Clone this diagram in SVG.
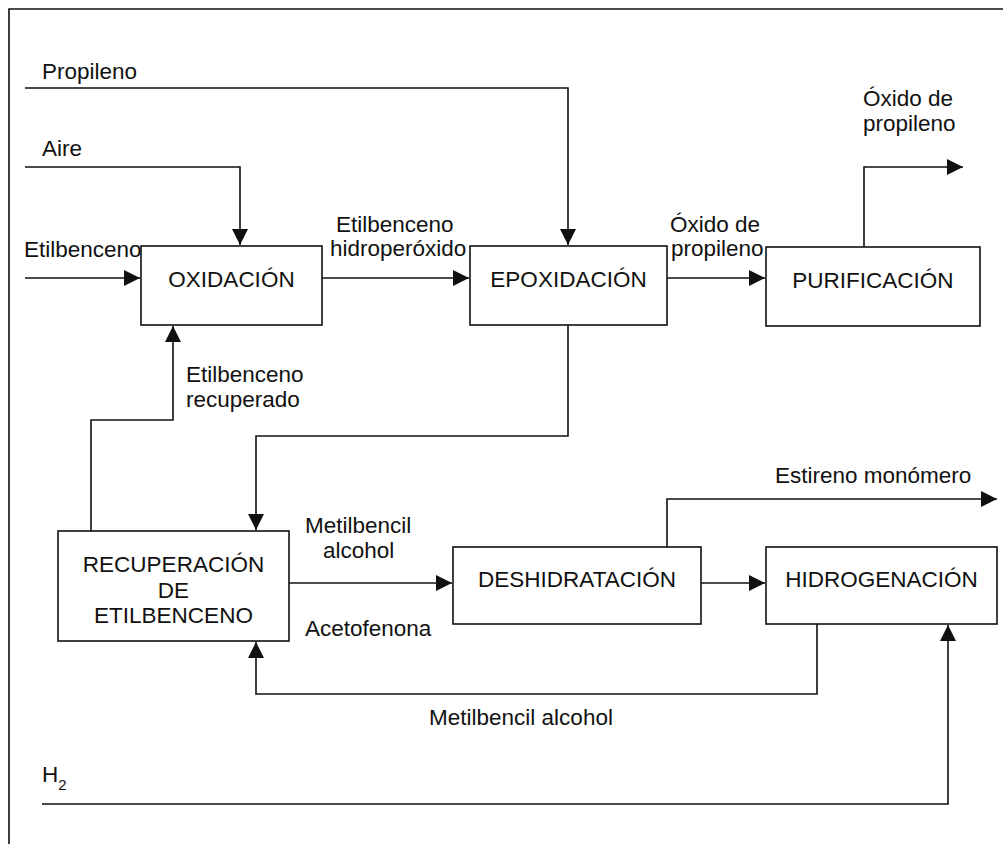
<svg xmlns="http://www.w3.org/2000/svg" width="1003" height="844" viewBox="0 0 1003 844">
<style>
text{font-family:"Liberation Sans",Arial,sans-serif;font-size:22.5px;fill:#111}
.box{fill:#fff;stroke:#111;stroke-width:1.6}
.c{text-anchor:middle}
.ln{fill:none;stroke:#111;stroke-width:1.6}
</style>
<defs>
<marker id="ah" markerUnits="userSpaceOnUse" markerWidth="17" markerHeight="17" refX="16" refY="8" orient="auto">
<path d="M0,0 L16,8 L0,16 z" fill="#111"/>
</marker>
</defs>
<rect width="1003" height="844" fill="#fff"/>
<path class="ln" d="M9,844 V9 H1003"/>
<g id="connectors">
<path class="ln" d="M25,88 H568 V245" marker-end="url(#ah)"/>
<path class="ln" d="M25,167 H240 V245" marker-end="url(#ah)"/>
<path class="ln" d="M25,278 H140" marker-end="url(#ah)"/>
<path class="ln" d="M322,278 H469" marker-end="url(#ah)"/>
<path class="ln" d="M667,278 H765" marker-end="url(#ah)"/>
<path class="ln" d="M864,247 V167 H963" marker-end="url(#ah)"/>
<path class="ln" d="M568,325 V436 H256 V530" marker-end="url(#ah)"/>
<path class="ln" d="M91,531 V420 H173 V326" marker-end="url(#ah)"/>
<path class="ln" d="M289,583 H452" marker-end="url(#ah)"/>
<path class="ln" d="M701,583 H765" marker-end="url(#ah)"/>
<path class="ln" d="M667,547 V499 H997" marker-end="url(#ah)"/>
<path class="ln" d="M817,624 V694 H256 V642" marker-end="url(#ah)"/>
<path class="ln" d="M42,804 H948 V625" marker-end="url(#ah)"/>
</g>
<g id="labels">
<text x="42" y="79">Propileno</text>
<text x="42" y="156">Aire</text>
<text x="24" y="257">Etilbenceno</text>
<text x="336" y="232">Etilbenceno</text>
<text x="330" y="256">hidroperóxido</text>
<text x="670" y="232">Óxido de</text>
<text x="671" y="256">propileno</text>
<text x="863" y="106">Óxido de</text>
<text x="863" y="131">propileno</text>
<text x="186" y="382">Etilbenceno</text>
<text x="186" y="407">recuperado</text>
<text x="305" y="533">Metilbencil</text>
<text x="323" y="558">alcohol</text>
<text x="305" y="636">Acetofenona</text>
<text x="775" y="483">Estireno monómero</text>
<text x="521" y="725" class="c">Metilbencil alcohol</text>
<text x="42" y="782">H<tspan font-size="15" dy="8">2</tspan></text>
</g>
<g id="oxidacion">
<rect class="box" x="141" y="246" width="181" height="79"/>
<text class="c" x="231.5" y="287">OXIDACIÓN</text>
</g>
<g id="epoxidacion">
<rect class="box" x="470" y="246" width="197" height="79"/>
<text class="c" x="568.5" y="287">EPOXIDACIÓN</text>
</g>
<g id="purificacion">
<rect class="box" x="766" y="247" width="214" height="79"/>
<text class="c" x="873" y="288">PURIFICACIÓN</text>
</g>
<g id="recuperacion">
<rect class="box" x="58" y="531" width="231" height="110"/>
<text class="c" x="173.5" y="572">RECUPERACIÓN</text>
<text class="c" x="173.5" y="598">DE</text>
<text class="c" x="173.5" y="623">ETILBENCENO</text>
</g>
<g id="deshidratacion">
<rect class="box" x="453" y="547" width="248" height="77"/>
<text class="c" x="577" y="587">DESHIDRATACIÓN</text>
</g>
<g id="hidrogenacion">
<rect class="box" x="766" y="547" width="231" height="77"/>
<text class="c" x="881.5" y="587">HIDROGENACIÓN</text>
</g>
</svg>
